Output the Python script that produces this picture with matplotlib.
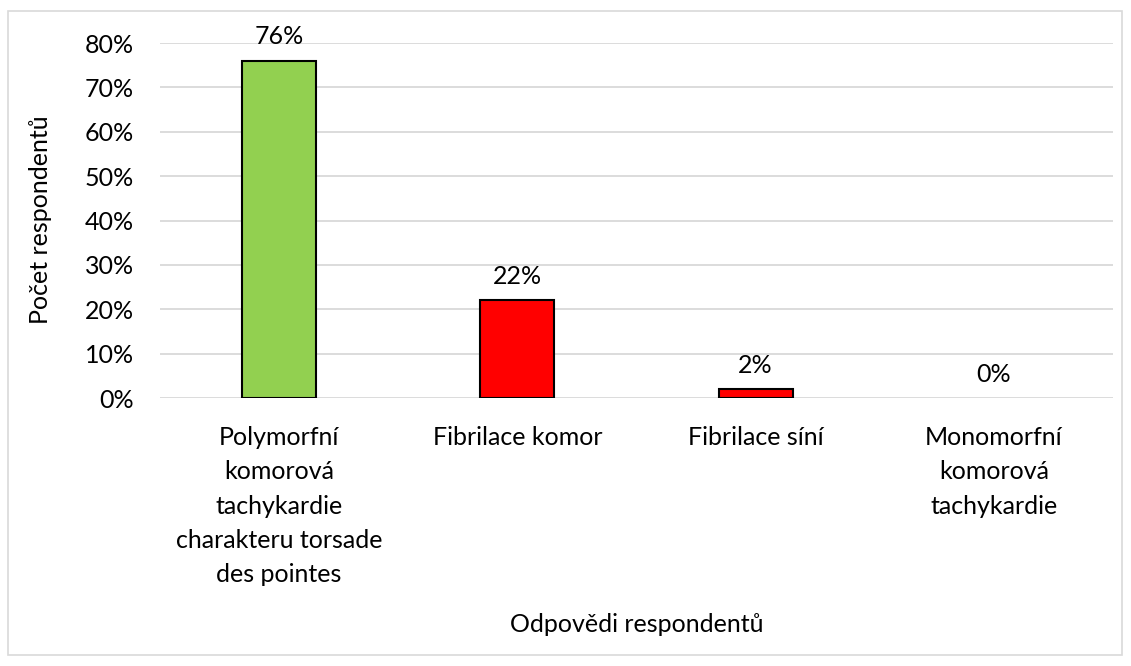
import matplotlib.pyplot as plt
from matplotlib.patches import Rectangle

# data
categories = ["Polymorfní\nkomorová\ntachykardie\ncharakteru torsade\ndes pointes",
              "Fibrilace komor", "Fibrilace síní",
              "Monomorfní\nkomorová\ntachykardie"]
values = [0.76, 0.22, 0.02, 0.0]
bar_colors = ["#92D050", "#FF0000", "#FF0000", "#FF0000"]
yticks = [0, 0.1, 0.2, 0.3, 0.4, 0.5, 0.6, 0.7, 0.8]

plt.rcParams['font.family'] = ['Lato', 'DejaVu Sans']
fs = 18

fig = plt.figure(figsize=(11.31, 6.66), dpi=100)
ax = fig.add_axes([0.1415, 0.4024, 0.8425, 0.533])

x = list(range(len(categories)))
edge_w = [1.5 if v > 0 else 0 for v in values]
bars = ax.bar(x, values, width=0.31, color=bar_colors, edgecolor="black",
              linewidth=edge_w, zorder=3)

for xi, v in zip(x, values):
    ax.annotate(f"{v*100:.0f}%", (xi, v), xytext=(0, 9), textcoords="offset points",
                ha="center", va="bottom", fontsize=fs)

ax.set_ylim(0, 0.8)
ax.set_xlim(-0.5, 3.5)
ax.set_yticks(yticks)
ax.set_yticklabels([f"{t*100:.0f}%" for t in yticks], fontsize=fs)
ax.yaxis.grid(True, color="#d9d9d9", linewidth=1.3, zorder=0)
ax.set_xticks(x)
ax.set_xticklabels(categories, fontsize=fs, linespacing=1.6, va="top")
ax.tick_params(axis="both", length=0)
ax.tick_params(axis="x", pad=20)
ax.tick_params(axis="y", pad=19)
for s in ax.spines.values():
    s.set_visible(False)

fig.text(0.5 * (0.1415 + 0.984), 1 - 624 / 666, "Odpovědi respondentů",
         ha="center", va="center", fontsize=fs)
fig.text(41 / 1131, 1 - 220 / 666, "Počet respondentů", rotation=90,
         ha="center", va="center", fontsize=fs)

# light outer frame like the Excel chart area
fig.patches.append(Rectangle((8 / 1131, 1 - 655 / 666), 1114 / 1131, 644 / 666,
                             transform=fig.transFigure, fill=False,
                             edgecolor="#d9d9d9", linewidth=1.2))

fig.savefig("out.png", dpi=100)
